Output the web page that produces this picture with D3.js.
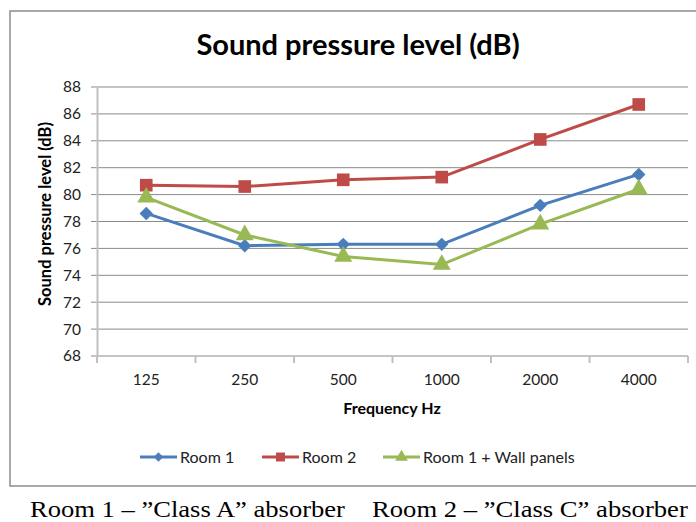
<!DOCTYPE html>
<html>
<head>
<meta charset="utf-8">
<script src="https://cdn.jsdelivr.net/npm/d3@7"></script>
<style>
  body { margin: 0; background: #fff; }
  svg text { font-family: Lato, "Liberation Sans", sans-serif; }
</style>
</head>
<body>
<svg id="chart" width="696" height="522"></svg>
<script>
// data
const frequencies = ["125", "250", "500", "1000", "2000", "4000"];
const room1 = [78.6, 76.2, 76.3, 76.3, 79.2, 81.5];
const room2 = [80.7, 80.6, 81.1, 81.3, 84.1, 86.7];
const room1Panels = [79.8, 77.0, 75.4, 74.8, 77.8, 80.4];
const yTicks = [68, 70, 72, 74, 76, 78, 80, 82, 84, 86, 88];
const seriesNames = ["Room 1", "Room 2", "Room 1 + Wall panels"];
const captions = ["Room 1 \u2013 \u201dClass A\u201d absorber", "Room 2 \u2013 \u201dClass C\u201d absorber"];

const svg = d3.select("#chart");

// outer chart frame
svg.append("rect")
  .attr("x", 10).attr("y", 11)
  .attr("width", 700).attr("height", 475)
  .attr("fill", "#fff")
  .attr("stroke", "#8c8c8c")
  .attr("stroke-width", 1.5);

const x = d3.scaleBand().domain(frequencies).range([97, 688]).padding(0);
const y = d3.scaleLinear().domain([68, 88]).range([356, 87]);

// gridlines
svg.append("g")
  .selectAll("line")
  .data(yTicks)
  .join("line")
  .attr("x1", 91).attr("x2", 688)
  .attr("y1", d => y(d)).attr("y2", d => y(d))
  .attr("stroke", "#8a8a8a")
  .attr("stroke-width", 1);

// y axis
const yAxis = svg.append("g")
  .attr("transform", "translate(97,0)")
  .call(d3.axisLeft(y).tickValues(yTicks).tickSize(0).tickPadding(16));
yAxis.select(".domain").attr("stroke", "#c0c0c0").attr("stroke-width", 2);
yAxis.selectAll("text").attr("font-size", 15.5).attr("fill", "#222")
  .style("font-family", "Lato, sans-serif");

// x axis
const xAxis = svg.append("g")
  .attr("transform", "translate(0,356)")
  .call(d3.axisBottom(x).tickSize(0).tickPadding(18));
xAxis.select(".domain").remove();
xAxis.selectAll("text").attr("font-size", 15.5).attr("fill", "#222")
  .style("font-family", "Lato, sans-serif");
// category boundary ticks
svg.append("g")
  .selectAll("line")
  .data(frequencies.concat(["end"]))
  .join("line")
  .attr("x1", (d, i) => i < frequencies.length ? x(d) : x.range()[1])
  .attr("x2", (d, i) => i < frequencies.length ? x(d) : x.range()[1])
  .attr("y1", 356).attr("y2", 363)
  .attr("stroke", "#c0c0c0").attr("stroke-width", 2);

// titles
svg.append("text")
  .attr("x", 358).attr("y", 55)
  .attr("text-anchor", "middle")
  .attr("font-size", 29).attr("font-weight", "bold")
  .text("Sound pressure level (dB)");

svg.append("text")
  .attr("x", 392).attr("y", 414)
  .attr("text-anchor", "middle")
  .attr("font-size", 16).attr("font-weight", "bold")
  .text("Frequency Hz");

svg.append("text")
  .attr("transform", "translate(51,214) rotate(-90)")
  .attr("text-anchor", "middle")
  .attr("font-size", 16.5).attr("font-weight", "bold")
  .text("Sound pressure level (dB)");

// series
const series = [
  { name: seriesNames[0], values: room1, color: "#4a7ebb", shape: d3.symbolSquare, rotate: 45, size: 90 },
  { name: seriesNames[1], values: room2, color: "#be4b48", shape: d3.symbolSquare, rotate: 0, size: 160 },
  { name: seriesNames[2], values: room1Panels, color: "#98b954", shape: d3.symbolTriangle, rotate: 0, size: 140 }
];

const line = d3.line()
  .x((d, i) => x(frequencies[i]) + x.bandwidth() / 2)
  .y(d => y(d));

series.forEach(s => {
  svg.append("path")
    .datum(s.values)
    .attr("d", line)
    .attr("fill", "none")
    .attr("stroke", s.color)
    .attr("stroke-width", 3);
  svg.append("g")
    .selectAll("path")
    .data(s.values)
    .join("path")
    .attr("transform", (d, i) => `translate(${x(frequencies[i]) + x.bandwidth() / 2},${y(d)}) rotate(${s.rotate})`)
    .attr("d", d3.symbol().type(s.shape).size(s.size))
    .attr("fill", s.color);
});

// legend
const legendX = [140, 262, 383];
const legend = svg.append("g");
series.forEach((s, i) => {
  const g = legend.append("g").attr("transform", `translate(${legendX[i]},457)`);
  g.append("line").attr("x1", 0).attr("x2", 37)
    .attr("stroke", s.color).attr("stroke-width", 3);
  g.append("path")
    .attr("transform", `translate(18.5,0) rotate(${s.rotate})`)
    .attr("d", d3.symbol().type(s.shape).size(s.size * 0.5))
    .attr("fill", s.color);
  g.append("text")
    .attr("x", 40).attr("y", 5.5)
    .attr("font-size", 16).attr("fill", "#222")
    .text(s.name);
});

// caption below the chart (the scan is a little stretched sideways)
const captionBox = [[30, 345], [372, 688]];
captions.forEach((c, i) => {
  const t = svg.append("text")
    .attr("font-size", 22.5)
    .style("font-family", "'Liberation Serif', 'Times New Roman', serif")
    .text(c);
  const natural = t.node().getComputedTextLength();
  const sx = (captionBox[i][1] - captionBox[i][0]) / natural;
  t.attr("transform", `translate(${captionBox[i][0]},517) scale(${sx},1)`);
});
</script>
</body>
</html>
